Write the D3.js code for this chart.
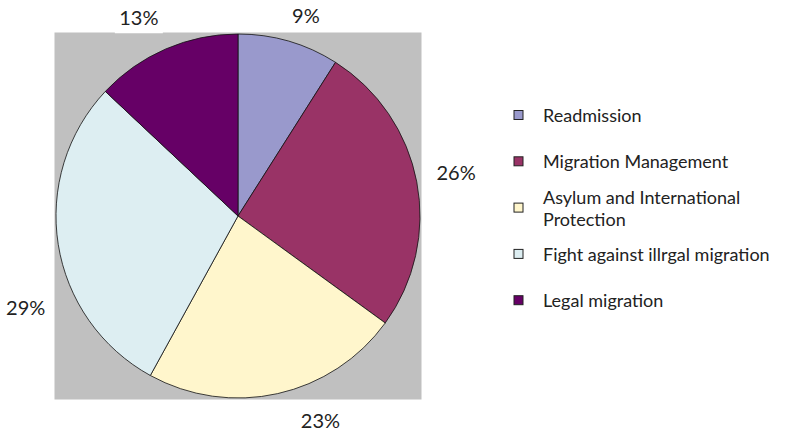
<!DOCTYPE html>
<html>
<head>
<meta charset="utf-8">
<script src="https://cdn.jsdelivr.net/npm/d3@7"></script>
<style>
  body { margin: 0; background: #fff; }
  text { font-family: Lato, "Liberation Sans", sans-serif; fill: #222; }
</style>
</head>
<body>
<script>
// chart data
const categories = ["Readmission", "Migration Management", "Asylum and International Protection", "Fight against illrgal migration", "Legal migration"];
const legendLines = [["Readmission"], ["Migration Management"], ["Asylum and International", "Protection"], ["Fight against illrgal migration"], ["Legal migration"]];
const shares = [9, 26, 23, 29, 13];
const colours = ["#9999cc", "#993366", "#fff6cc", "#ddeef2", "#660066"];

document.addEventListener("DOMContentLoaded", function(){
    const w = 787;
    const h = 433;
    const cx = 238, cy = 216, r = 182;

    // label nudges, Excel places these slightly off the slice middle
    const labelShift = [[6, 12], [0, -2], [34, -13], [7, 56], [-11, 5]];

    const svg = d3.select("body")
        .append("svg")
        .attr("width", w)
        .attr("height", h);

    // grey plot area
    svg.append("rect")
        .attr("x", cx - r - 1.5)
        .attr("y", cy - r - 1.5)
        .attr("width", 2 * r + 3)
        .attr("height", 2 * r + 3)
        .attr("fill", "#c0c0c0");

    const pie = d3.pie().sort(null).value(d => d)(shares);
    const arc = d3.arc().innerRadius(0).outerRadius(r);
    const labelArc = d3.arc().innerRadius(r + 40).outerRadius(r + 40);

    const g = svg.append("g").attr("transform", `translate(${cx},${cy})`);

    g.selectAll("path")
        .data(pie)
        .enter()
        .append("path")
        .attr("d", arc)
        .attr("fill", (d, i) => colours[i])
        .attr("stroke", "#111")
        .attr("stroke-width", 0.8);

    // percentage labels
    const labels = svg.selectAll("g.lab")
        .data(pie)
        .enter()
        .append("g")
        .attr("class", "lab")
        .attr("transform", (d, i) => {
            const c = labelArc.centroid(d);
            return `translate(${cx + c[0] + labelShift[i][0]},${cy + c[1] + labelShift[i][1]})`;
        });

    labels.append("rect")
        .attr("x", -24)
        .attr("y", -12)
        .attr("width", 48)
        .attr("height", 28)
        .attr("fill", "#fff");

    labels.append("text")
        .attr("text-anchor", "middle")
        .attr("dominant-baseline", "central")
        .attr("font-size", 20)
        .text(d => d.value + "%");

    // legend
    const lx = 514, ly = 115, step = 46.3;
    const legend = svg.selectAll("g.leg")
        .data(categories)
        .enter()
        .append("g")
        .attr("class", "leg")
        .attr("transform", (d, i) => `translate(${lx},${ly + i * step})`);

    legend.append("rect")
        .attr("x", 0)
        .attr("y", -4.5)
        .attr("width", 9)
        .attr("height", 9)
        .attr("fill", (d, i) => colours[i])
        .attr("stroke", "#222")
        .attr("stroke-width", 1);

    // one text per line so wrapped entries stay apart
    legend.each(function(d, i) {
        const lines = legendLines[i];
        const grp = d3.select(this);
        lines.forEach((line, k) => {
            grp.append("text")
                .attr("x", 29)
                .attr("y", (k - (lines.length - 1) / 2) * 22)
                .attr("font-size", 18)
                .attr("dominant-baseline", "central")
                .text(line);
        });
    });
});
</script>
</body>
</html>
